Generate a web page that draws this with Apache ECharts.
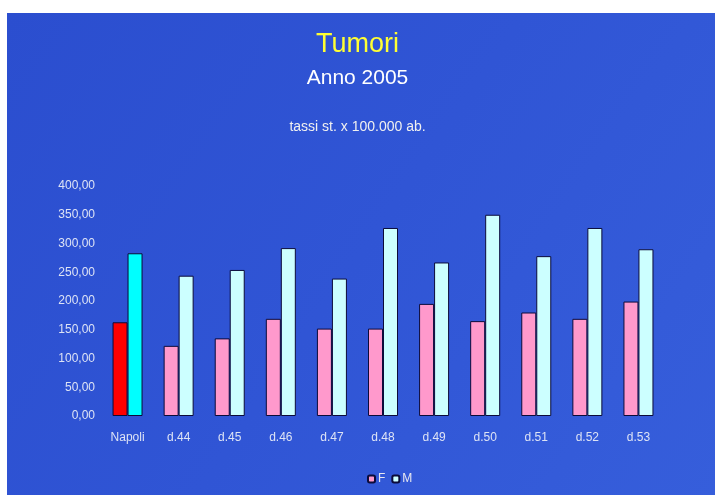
<!DOCTYPE html>
<html>
<head>
<meta charset="utf-8">
<script src="https://cdn.jsdelivr.net/npm/echarts@6/dist/echarts.min.js"></script>
<style>
  html, body { margin: 0; padding: 0; background: #fff; }
  #main { width: 715px; height: 495px; }
</style>
</head>
<body>
<div id="main"></div>
<script>
  // dati
  const categories = ['Napoli', 'd.44', 'd.45', 'd.46', 'd.47', 'd.48', 'd.49', 'd.50', 'd.51', 'd.52', 'd.53'];
  const femmine = [163, 122, 135, 169, 152, 152, 195, 165, 180, 169, 199];
  const maschi = [283, 244, 254, 292, 239, 327, 267, 350, 278, 327, 290];
  const yTicks = [0, 50, 100, 150, 200, 250, 300, 350, 400];

  const chart = echarts.init(document.getElementById('main'));

  // la prima barra (Napoli) ha colori diversi
  function toItems(values, firstColor) {
    return values.map((v, i) => i === 0 ? { value: v, itemStyle: { color: firstColor } } : v);
  }

  const option = {
    backgroundColor: '#ffffff',
    textStyle: { fontFamily: 'Liberation Sans, Arial, sans-serif' },
    animation: false,
    graphic: [
      {
        type: 'rect',
        z: -10,
        shape: { x: 7, y: 13, width: 708, height: 482 },
        style: {
          fill: {
            type: 'linear', x: 0, y: 0, x2: 1, y2: 1,
            colorStops: [
              { offset: 0, color: '#2b4ecf' },
              { offset: 0.5, color: '#3055d5' },
              { offset: 1, color: '#365edb' }
            ]
          }
        }
      },
      {
        type: 'text', left: 'center', top: 31,
        style: { text: 'Tumori', fill: '#ffff33', font: '27px "Liberation Sans", Arial, sans-serif' }
      },
      {
        type: 'text', left: 'center', top: 68,
        style: { text: 'Anno 2005', fill: '#ffffff', font: '21px "Liberation Sans", Arial, sans-serif' }
      },
      {
        type: 'text', left: 'center', top: 120,
        style: { text: 'tassi st. x 100.000 ab.', fill: '#f0f0f0', font: '14px "Liberation Sans", Arial, sans-serif' }
      }
    ],
    legend: {
      data: ['F', 'M'],
      left: 362,
      top: 468,
      itemWidth: 7,
      itemHeight: 7,
      itemGap: 6,
      textStyle: { color: '#e8e8f0', fontSize: 12, padding: [0, 0, 0, -2] }
    },
    grid: { left: 102, right: 51, top: 186, bottom: 79 },
    xAxis: {
      type: 'category',
      data: categories,
      axisLine: { show: false },
      axisTick: { show: false },
      axisLabel: { color: '#dde3f5', fontSize: 12, margin: 16 }
    },
    yAxis: {
      type: 'value',
      min: yTicks[0],
      max: yTicks[yTicks.length - 1],
      interval: 50,
      splitLine: { show: false },
      axisLine: { show: false },
      axisTick: { show: false },
      axisLabel: {
        color: '#dde3f5',
        fontSize: 12,
        margin: 7,
        formatter: v => v.toFixed(2).replace('.', ',')
      }
    },
    series: [
      {
        name: 'F',
        type: 'bar',
        data: toItems(femmine, '#ff0000'),
        barWidth: 15,
        barGap: '0%',
        itemStyle: { color: '#ff99cc', borderColor: '#0b0b3a', borderWidth: 1 }
      },
      {
        name: 'M',
        type: 'bar',
        data: toItems(maschi, '#00ffff'),
        barWidth: 15,
        itemStyle: { color: '#ccffff', borderColor: '#0b0b3a', borderWidth: 1 }
      }
    ]
  };

  chart.setOption(option);
</script>
</body>
</html>
